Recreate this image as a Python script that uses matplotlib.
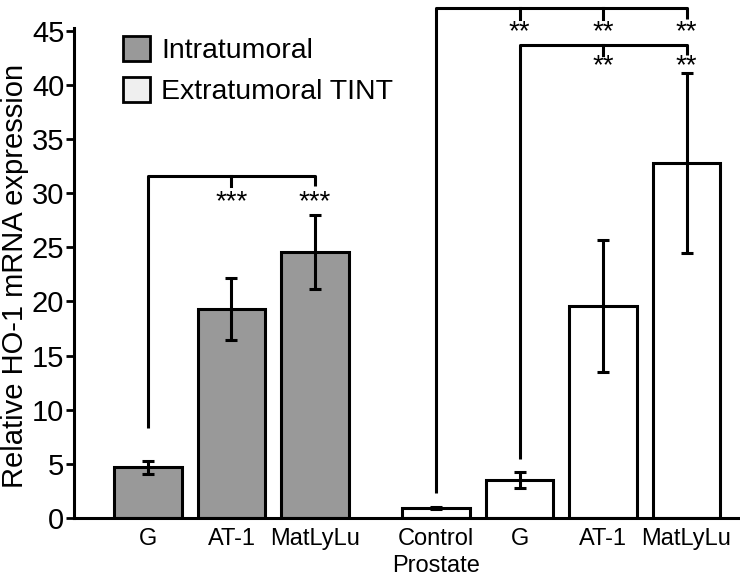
import numpy as np
import matplotlib
matplotlib.use('Agg')
import matplotlib.pyplot as plt
from matplotlib.patches import Patch

plt.rcParams['font.family'] = ['Liberation Sans', 'DejaVu Sans']

#bar data
labels = ['G', 'AT-1', 'MatLyLu', 'Control\nProstate', 'G', 'AT-1', 'MatLyLu']
intra_vals = [4.7, 19.3, 24.6]
intra_err = [0.6, 2.9, 3.4]
extra_vals = [0.95, 3.5, 19.6, 32.8]
extra_err = [0.1, 0.7, 6.1, 8.3]
pos = [0, 1, 2, 3.45, 4.45, 5.45, 6.45]

fig = plt.figure(figsize=(7.4, 5.78), dpi=100)
ax = fig.add_axes([0.1, 0.104, 0.9, 0.848])

w = 0.81
ax.bar(pos[:3], intra_vals, w, color='#999999', edgecolor='black', linewidth=2.2, zorder=2)
ax.bar(pos[3:], extra_vals, w, color='white', edgecolor='black', linewidth=2.2, zorder=2)
ax.errorbar(pos[:3], intra_vals, yerr=intra_err, fmt='none', ecolor='black',
            elinewidth=2.2, capsize=4, capthick=2.2, zorder=3)
ax.errorbar(pos[3:], extra_vals, yerr=extra_err, fmt='none', ecolor='black',
            elinewidth=2.2, capsize=4, capthick=2.2, zorder=3)

ax.set_xlim(-0.886, 7.09)
ax.set_ylim(0, 45.3)
ax.set_yticks(np.arange(0, 46, 5))
ax.set_xticks(pos)
ax.set_xticklabels(labels, fontsize=17, linespacing=1.3)
ax.tick_params(axis='x', length=0, pad=7)
ax.tick_params(axis='y', length=6, width=2, pad=1, labelsize=21)
for s in ['top', 'right']:
    ax.spines[s].set_visible(False)
for s in ['left', 'bottom']:
    ax.spines[s].set_linewidth(2.2)
ax.set_ylabel('Relative HO-1 mRNA expression', fontsize=21)
ax.yaxis.set_label_coords(-0.067, 0.494)

#significance brackets
lw = 2.2
def bracket(x0, x1, top, left_bottom, ticks, tick_bottom):
    ax.plot([x0, x0, x1, x1], [left_bottom, top, top, tick_bottom], color='black',
            lw=lw, clip_on=False, solid_capstyle='butt', zorder=4)
    for t in ticks:
        ax.plot([t, t], [top, tick_bottom], color='black', lw=lw, clip_on=False, zorder=4)

def stars(x, y, s):
    ax.text(x, y, s, ha='center', va='center', fontsize=20, clip_on=False)

bracket(pos[0], pos[2], 31.6, 8.35, [pos[1]], 30.7)
stars(pos[1], 29.2, '***')
stars(pos[2], 29.2, '***')

bracket(pos[3], pos[6], 47.1, 2.3, [pos[4], pos[5]], 46.1)
for p in pos[4:]:
    stars(p, 44.85, '**')
bracket(pos[4], pos[6], 43.75, 5.4, [pos[5]], 42.8)
stars(pos[5], 41.7, '**')
stars(pos[6], 41.7, '**')

handles = [Patch(facecolor='#999999', edgecolor='black', linewidth=2),
           Patch(facecolor='#efefef', edgecolor='black', linewidth=2)]
ax.legend(handles, ['Intratumoral', 'Extratumoral TINT'], loc='upper left',
          bbox_to_anchor=(0.035, 1.035), frameon=False, fontsize=20.5,
          handlelength=0.95, handleheight=0.95, handletextpad=0.4, labelspacing=0.45)

fig.savefig('out.png', dpi=100)
